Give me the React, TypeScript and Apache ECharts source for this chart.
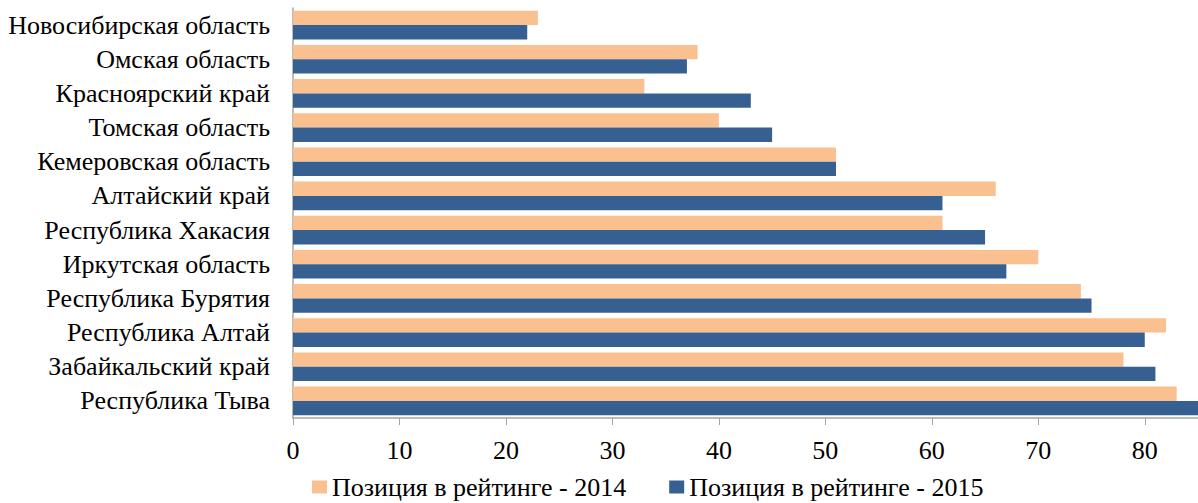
import React, { useEffect, useRef } from "react";
import * as echarts from "echarts";

const categories = [
  "Новосибирская область",
  "Омская область",
  "Красноярский край",
  "Томская область",
  "Кемеровская область",
  "Алтайский край",
  "Республика Хакасия",
  "Иркутская область",
  "Республика Бурятия",
  "Республика Алтай",
  "Забайкальский край",
  "Республика Тыва",
];
const values2014 = [23, 38, 33, 40, 51, 66, 61, 70, 74, 82, 78, 83];
const values2015 = [22, 37, 43, 45, 51, 61, 65, 67, 75, 80, 81, 85];
const seriesNames = ["Позиция в рейтинге - 2014", "Позиция в рейтинге - 2015"];

const FONT = "'Liberation Serif', 'Times New Roman', serif";

export default function App() {
  const ref = useRef<HTMLDivElement>(null);
  useEffect(() => {
    const chart = echarts.init(ref.current!, null, { renderer: "svg" });
    chart.setOption({
      animation: false,
      textStyle: { fontFamily: FONT },
      grid: { left: 293, right: -2, top: 8, height: 410, containLabel: false },
      legend: {
        left: 312,
        top: 474,
        padding: 0,
        itemWidth: 15,
        itemHeight: 13,
        itemGap: 43,
        icon: "rect",
        textStyle: { fontFamily: FONT, fontSize: 26, color: "#000", padding: [0, 0, 0, 0] },
        data: seriesNames,
      },
      xAxis: {
        type: "value",
        min: 0,
        max: 85,
        interval: 10,
        axisLine: { show: true, lineStyle: { color: "#a6a6a6", width: 1.5 } },
        axisTick: { show: true, length: 7, lineStyle: { color: "#a6a6a6" } },
        axisLabel: { fontFamily: FONT, fontSize: 26, color: "#000", margin: 19, showMaxLabel: false },
        splitLine: { show: false },
      },
      yAxis: {
        type: "category",
        inverse: true,
        data: categories,
        axisLine: { show: true, lineStyle: { color: "#a6a6a6", width: 1.5 } },
        axisTick: { show: false },
        axisLabel: { fontFamily: FONT, fontSize: 26, color: "#000", margin: 23 },
      },
      series: [
        {
          name: seriesNames[0],
          type: "bar",
          data: values2014,
          barGap: "0%",
          barCategoryGap: "16%",
          itemStyle: { color: "#FAC090" },
        },
        {
          name: seriesNames[1],
          type: "bar",
          data: values2015,
          barGap: "0%",
          barCategoryGap: "16%",
          itemStyle: { color: "#376092" },
        },
      ],
    });
    return () => chart.dispose();
  }, []);
  return <div ref={ref} style={{ width: 1198, height: 503, position: "absolute", left: 0, top: 0 }} />;
}
